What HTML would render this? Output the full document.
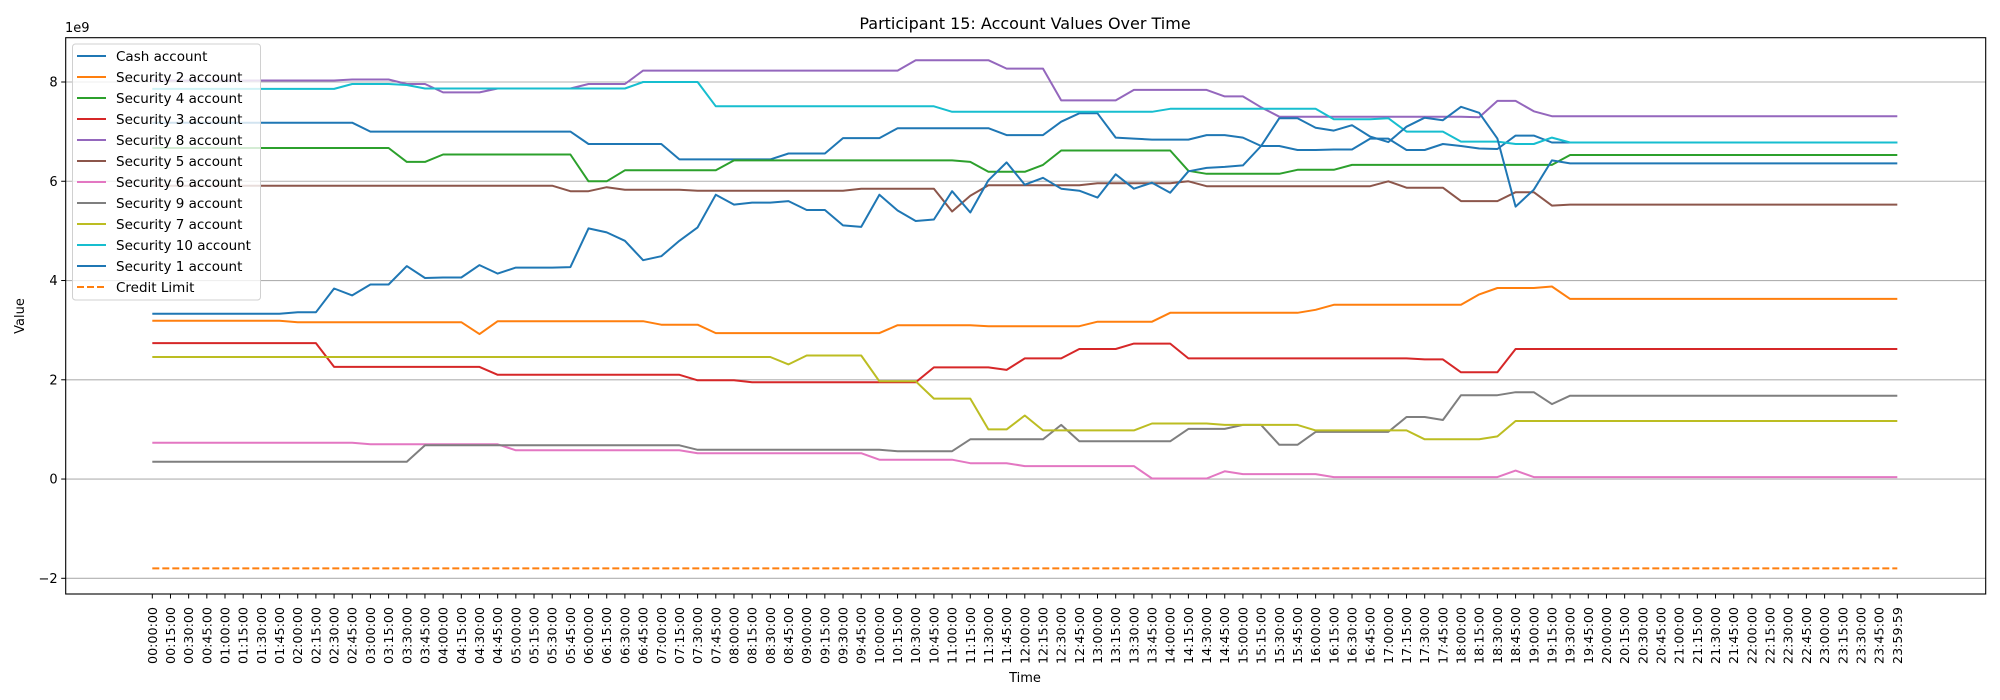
<!DOCTYPE html>
<html><head><meta charset="utf-8"><style>
html,body{margin:0;padding:0;background:#fff;}
svg{display:block;font-family:"DejaVu Sans","Liberation Sans",sans-serif;}
</style></head><body>
<svg id="chart" width="2000" height="700" viewBox="0 0 2000 700" xmlns="http://www.w3.org/2000/svg">
<rect x="0" y="0" width="2000" height="700" fill="#fff"/>
<text x="1025" y="29" font-size="16" text-anchor="middle" fill="#000">Participant 15: Account Values Over Time</text>
<text x="65" y="32" font-size="13" fill="#000">1e9</text>
<text x="0" y="0" font-size="13" text-anchor="middle" transform="translate(24,316) rotate(-90)" fill="#000">Value</text>
<text x="1025" y="682" font-size="13" text-anchor="middle" fill="#000">Time</text>
<g id="grid"></g><g id="series"></g><g id="axes"></g><g id="legend"></g>
</svg>
<script>
const categories=[];
for(let m=0;m<24*60;m+=15){categories.push(String(Math.floor(m/60)).padStart(2,'0')+':'+String(m%60).padStart(2,'0')+':00');}
categories.push('23:59:59');
const yTicks=[-2,0,2,4,6,8];
const yTickLabels=['\u22122','0','2','4','6','8'];
const cashAccount=[7.18,7.18,7.18,7.18,7.18,7.18,7.18,7.18,7.18,7.18,7.18,7.18,
7.00,7.00,7.00,7.00,7.00,7.00,7.00,7.00,7.00,7.00,7.00,7.00,
6.75,6.75,6.75,6.75,6.75,6.44,6.44,6.44,6.44,6.44,6.44,
6.56,6.56,6.56,6.87,6.87,6.87,7.07,7.07,7.07,7.07,7.07,7.07,6.93,6.93,6.93,
7.20,7.37,7.37,6.88,6.86,6.84,6.84,6.84,6.93,6.93,
6.88,6.71,6.71,6.63,6.63,6.64,6.64,6.86,6.86,6.63,
6.63,6.75,6.71,6.66,6.65,6.92,6.92,6.78,
6.78,6.78,6.78,6.78,6.78,6.78,6.78,6.78,6.78,6.78,6.78,6.78,6.78,6.78,6.78,6.78,6.78,6.78,6.78];
const security2=[3.19,3.19,3.19,3.19,3.19,3.19,3.19,3.19,
3.16,3.16,3.16,3.16,3.16,3.16,3.16,3.16,3.16,3.16,2.92,
3.18,3.18,3.18,3.18,3.18,3.18,3.18,3.18,3.18,3.11,3.11,3.11,
2.94,2.94,2.94,2.94,2.94,2.94,2.94,2.94,2.94,2.94,
3.10,3.10,3.10,3.10,3.10,3.08,3.08,3.08,3.08,3.08,3.08,3.17,3.17,3.17,3.17,
3.35,3.35,3.35,3.35,3.35,3.35,3.35,3.35,3.41,
3.51,3.51,3.51,3.51,3.51,3.51,3.51,3.51,3.72,3.85,3.85,3.85,3.88,
3.63,3.63,3.63,3.63,3.63,3.63,3.63,3.63,3.63,3.63,3.63,3.63,3.63,3.63,3.63,3.63,3.63,3.63,3.63];
const security4=[6.67,6.67,6.67,6.67,6.67,6.67,6.67,6.67,6.67,6.67,6.67,6.67,6.67,6.67,
6.39,6.39,6.54,6.54,6.54,6.54,6.54,6.54,6.54,6.54,6.00,6.00,
6.22,6.22,6.22,6.22,6.22,6.22,
6.42,6.42,6.42,6.42,6.42,6.42,6.42,6.42,6.42,6.42,6.42,6.42,6.42,
6.39,6.19,6.19,6.19,6.33,6.62,6.62,6.62,6.62,6.62,6.62,6.62,
6.21,6.15,6.15,6.15,6.15,6.15,6.23,6.23,6.23,
6.33,6.33,6.33,6.33,6.33,6.33,6.33,6.33,6.33,6.33,6.33,6.33,
6.53,6.53,6.53,6.53,6.53,6.53,6.53,6.53,6.53,6.53,6.53,6.53,6.53,6.53,6.53,6.53,6.53,6.53,6.53];
const security3=[2.74,2.74,2.74,2.74,2.74,2.74,2.74,2.74,2.74,2.74,
2.26,2.26,2.26,2.26,2.26,2.26,2.26,2.26,2.26,
2.10,2.10,2.10,2.10,2.10,2.10,2.10,2.10,2.10,2.10,2.10,
1.99,1.99,1.99,1.95,1.95,1.95,1.95,1.95,1.95,1.95,1.95,1.95,1.95,
2.25,2.25,2.25,2.25,2.20,2.43,2.43,2.43,2.62,2.62,2.62,2.73,2.73,2.73,
2.43,2.43,2.43,2.43,2.43,2.43,2.43,2.43,2.43,2.43,2.43,2.43,2.43,
2.41,2.41,2.15,2.15,2.15,
2.62,2.62,2.62,2.62,2.62,2.62,2.62,2.62,2.62,2.62,2.62,2.62,2.62,2.62,2.62,2.62,2.62,2.62,2.62,2.62,2.62,2.62];
const security8=[8.03,8.03,8.03,8.03,8.03,8.03,8.03,8.03,8.03,8.03,8.03,
8.05,8.05,8.05,7.96,7.96,7.79,7.79,7.79,7.87,7.87,7.87,7.87,7.87,7.96,7.96,7.96,
8.23,8.23,8.23,8.23,8.23,8.23,8.23,8.23,8.23,8.23,8.23,8.23,8.23,8.23,8.23,
8.44,8.44,8.44,8.44,8.44,8.27,8.27,8.27,7.63,7.63,7.63,7.63,
7.84,7.84,7.84,7.84,7.84,7.71,7.71,7.49,
7.30,7.30,7.30,7.30,7.30,7.30,7.30,7.30,7.30,7.30,7.30,7.29,7.62,7.62,7.41,
7.31,7.31,7.31,7.31,7.31,7.31,7.31,7.31,7.31,7.31,7.31,7.31,7.31,7.31,7.31,7.31,7.31,7.31,7.31,7.31];
const security5=[5.91,5.91,5.91,5.91,5.91,5.91,5.91,5.91,5.91,5.91,5.91,5.91,5.91,5.91,5.91,5.91,5.91,5.91,5.91,5.91,5.91,5.91,5.91,
5.80,5.80,5.88,5.83,5.83,5.83,5.83,
5.81,5.81,5.81,5.81,5.81,5.81,5.81,5.81,5.81,5.85,5.85,5.85,5.85,5.85,
5.39,5.71,5.92,5.92,5.92,5.92,5.92,5.92,5.96,5.96,5.96,5.96,5.96,6.00,
5.90,5.90,5.90,5.90,5.90,5.90,5.90,5.90,5.90,5.90,6.00,5.87,5.87,5.87,
5.60,5.60,5.60,5.78,5.78,5.51,
5.53,5.53,5.53,5.53,5.53,5.53,5.53,5.53,5.53,5.53,5.53,5.53,5.53,5.53,5.53,5.53,5.53,5.53,5.53];
const security6=[0.73,0.73,0.73,0.73,0.73,0.73,0.73,0.73,0.73,0.73,0.73,0.73,
0.70,0.70,0.70,0.70,0.70,0.70,0.70,0.70,
0.58,0.58,0.58,0.58,0.58,0.58,0.58,0.58,0.58,0.58,
0.52,0.52,0.52,0.52,0.52,0.52,0.52,0.52,0.52,0.52,
0.39,0.39,0.39,0.39,0.39,0.32,0.32,0.32,0.26,0.26,0.26,0.26,0.26,0.26,0.26,
0.01,0.01,0.01,0.01,0.155,0.10,0.10,0.10,0.10,0.10,
0.04,0.04,0.04,0.04,0.04,0.04,0.04,0.04,0.04,0.04,0.17,
0.04,0.04,0.04,0.04,0.04,0.04,0.04,0.04,0.04,0.04,0.04,0.04,0.04,0.04,0.04,0.04,0.04,0.04,0.04,0.04,0.04];
const security9=[0.35,0.35,0.35,0.35,0.35,0.35,0.35,0.35,0.35,0.35,0.35,0.35,0.35,0.35,0.35,
0.68,0.68,0.68,0.68,0.68,0.68,0.68,0.68,0.68,0.68,0.68,0.68,0.68,0.68,0.68,
0.59,0.59,0.59,0.59,0.59,0.59,0.59,0.59,0.59,0.59,0.59,
0.56,0.56,0.56,0.56,0.80,0.80,0.80,0.80,0.80,1.09,
0.76,0.76,0.76,0.76,0.76,0.76,1.01,1.01,1.01,1.09,1.09,0.69,0.69,
0.95,0.95,0.95,0.95,0.95,1.25,1.25,1.19,1.69,1.69,1.69,1.75,1.75,1.51,
1.68,1.68,1.68,1.68,1.68,1.68,1.68,1.68,1.68,1.68,1.68,1.68,1.68,1.68,1.68,1.68,1.68,1.68,1.68];
const security7=[2.46,2.46,2.46,2.46,2.46,2.46,2.46,2.46,2.46,2.46,2.46,2.46,2.46,2.46,2.46,2.46,2.46,2.46,2.46,2.46,
2.46,2.46,2.46,2.46,2.46,2.46,2.46,2.46,2.46,2.46,2.46,2.46,2.46,2.46,2.46,
2.31,2.49,2.49,2.49,2.49,1.97,1.97,1.97,1.62,1.62,1.62,1.00,1.00,1.28,
0.98,0.98,0.98,0.98,0.98,0.98,1.12,1.12,1.12,1.12,1.09,1.09,1.09,1.09,1.09,
0.98,0.98,0.98,0.98,0.98,0.98,0.80,0.80,0.80,0.80,0.86,
1.17,1.17,1.17,1.17,1.17,1.17,1.17,1.17,1.17,1.17,1.17,1.17,1.17,1.17,1.17,1.17,1.17,1.17,1.17,1.17,1.17,1.17];
const security10=[7.86,7.86,7.86,7.86,7.86,7.86,7.86,7.86,7.86,7.86,7.86,
7.96,7.96,7.96,7.94,7.87,7.87,7.87,7.87,7.87,7.87,7.87,7.87,7.87,7.87,7.87,7.87,
8.00,8.00,8.00,8.00,
7.51,7.51,7.51,7.51,7.51,7.51,7.51,7.51,7.51,7.51,7.51,7.51,7.51,
7.40,7.40,7.40,7.40,7.40,7.40,7.40,7.40,7.40,7.40,7.40,7.40,
7.46,7.46,7.46,7.46,7.46,7.46,7.46,7.46,7.46,7.25,7.25,7.25,7.27,
7.00,7.00,7.00,6.80,6.80,6.80,6.75,6.75,6.88,
6.78,6.78,6.78,6.78,6.78,6.78,6.78,6.78,6.78,6.78,6.78,6.78,6.78,6.78,6.78,6.78,6.78,6.78,6.78];
const security1=[3.33,3.33,3.33,3.33,3.33,3.33,3.33,3.33,3.36,3.36,
3.84,3.70,3.92,3.92,4.29,4.05,4.06,4.06,4.31,4.14,
4.26,4.26,4.26,4.27,5.05,4.97,4.80,4.41,4.49,4.80,
5.07,5.73,5.53,5.57,5.57,5.60,5.42,5.42,5.11,5.08,
5.73,5.41,5.20,5.23,5.80,5.37,6.02,6.38,5.93,6.07,
5.85,5.81,5.67,6.14,5.85,5.97,5.77,6.20,6.27,6.29,
6.32,6.71,7.27,7.27,7.08,7.02,7.13,6.90,6.79,7.10,
7.28,7.23,7.50,7.38,6.86,5.49,5.83,6.42,
6.36,6.36,6.36,6.36,6.36,6.36,6.36,6.36,6.36,6.36,6.36,6.36,6.36,6.36,6.36,6.36,6.36,6.36,6.36];
const creditLimit=[-1.8,-1.8,-1.8,-1.8,-1.8,-1.8,-1.8,-1.8,-1.8,-1.8,-1.8,-1.8,-1.8,-1.8,-1.8,-1.8,-1.8,-1.8,-1.8,-1.8,
-1.8,-1.8,-1.8,-1.8,-1.8,-1.8,-1.8,-1.8,-1.8,-1.8,-1.8,-1.8,-1.8,-1.8,-1.8,-1.8,-1.8,-1.8,-1.8,-1.8,
-1.8,-1.8,-1.8,-1.8,-1.8,-1.8,-1.8,-1.8,-1.8,-1.8,-1.8,-1.8,-1.8,-1.8,-1.8,-1.8,-1.8,-1.8,-1.8,-1.8,
-1.8,-1.8,-1.8,-1.8,-1.8,-1.8,-1.8,-1.8,-1.8,-1.8,-1.8,-1.8,-1.8,-1.8,-1.8,-1.8,-1.8,-1.8,-1.8,-1.8,
-1.8,-1.8,-1.8,-1.8,-1.8,-1.8,-1.8,-1.8,-1.8,-1.8,-1.8,-1.8,-1.8,-1.8,-1.8,-1.8,-1.8];
const seriesNames=['Cash account','Security 2 account','Security 4 account','Security 3 account','Security 8 account','Security 5 account','Security 6 account','Security 9 account','Security 7 account','Security 10 account','Security 1 account','Credit Limit'];
const seriesValues=[cashAccount,security2,security4,security3,security8,security5,security6,security9,security7,security10,security1,creditLimit];
const seriesColors=['#1f77b4','#ff7f0e','#2ca02c','#d62728','#9467bd','#8c564b','#e377c2','#7f7f7f','#bcbd22','#17becf','#1f77b4','#ff7f0e'];

const NS='http://www.w3.org/2000/svg';
const L=65.7,R=1985.7,T=37.7,B=594;
const X0=152.3,X1=1897.3;
function xPos(i){return X0+(X1-X0)*i/(categories.length-1);}
const Y8=82,YM2=578.3;
function yPos(v){return Y8+(8-v)*(YM2-Y8)/10;}
function mk(tag,attrs,parent){const e=document.createElementNS(NS,tag);for(const k in attrs)e.setAttribute(k,attrs[k]);parent.appendChild(e);return e;}
const grid=document.getElementById('grid'),axes=document.getElementById('axes'),ser=document.getElementById('series'),leg=document.getElementById('legend');
yTicks.forEach((t,k)=>{
  const y=yPos(t);
  const g=mk('line',{x1:L,x2:R,y1:y,y2:y,stroke:'#b0b0b0','stroke-width':1.1},grid);
  
  
  const tk=mk('line',{x1:L-4.5,x2:L,y1:y,y2:y,stroke:'#000','stroke-width':1},axes);
  
  
  const tx=mk('text',{x:L-8,y:y+4.5,'font-size':13,'text-anchor':'end',fill:'#000'},axes);
  tx.textContent=yTickLabels[k];
  
  
});
categories.forEach((c,i)=>{
  const x=xPos(i);
  const tk=mk('line',{x1:x,x2:x,y1:B,y2:B+4.5,stroke:'#000','stroke-width':1},axes);
  
  
  const tx=mk('text',{x:0,y:0,'font-size':12.7,'text-anchor':'end',fill:'#000',transform:'translate('+(x+4.5)+','+(B+13)+') rotate(-90)'},axes);
  tx.textContent=c;
  
  
});
const frame=mk('rect',{x:L,y:T,width:R-L,height:B-T,fill:'none',stroke:'#000','stroke-width':1.1},axes);


seriesValues.forEach((vals,s)=>{
  const pts=vals.map((v,i)=>xPos(i).toFixed(1)+','+yPos(v).toFixed(1)).join(' ');
  const a={points:pts,fill:'none',stroke:seriesColors[s],'stroke-width':2,'stroke-linejoin':'round'};
  if(s===seriesValues.length-1){a['stroke-dasharray']='7,3';}
  const p=mk('polyline',a,ser);
  
  
});
const lb=mk('rect',{x:72.5,y:44,width:188,height:256,rx:3,fill:'#fff','fill-opacity':0.8,stroke:'#d0d0d0','stroke-width':1},leg);


seriesNames.forEach((n,s)=>{
  const y=56+s*21;
  const ln=mk('line',{x1:77,x2:106,y1:y,y2:y,stroke:seriesColors[s],'stroke-width':2,'stroke-dasharray':s===seriesNames.length-1?'7,3':'none'},leg);
  
  
  const tx=mk('text',{x:116,y:y+5,'font-size':13.5,fill:'#000'},leg);
  tx.textContent=n;
  
  
});
</script>
</body></html>
